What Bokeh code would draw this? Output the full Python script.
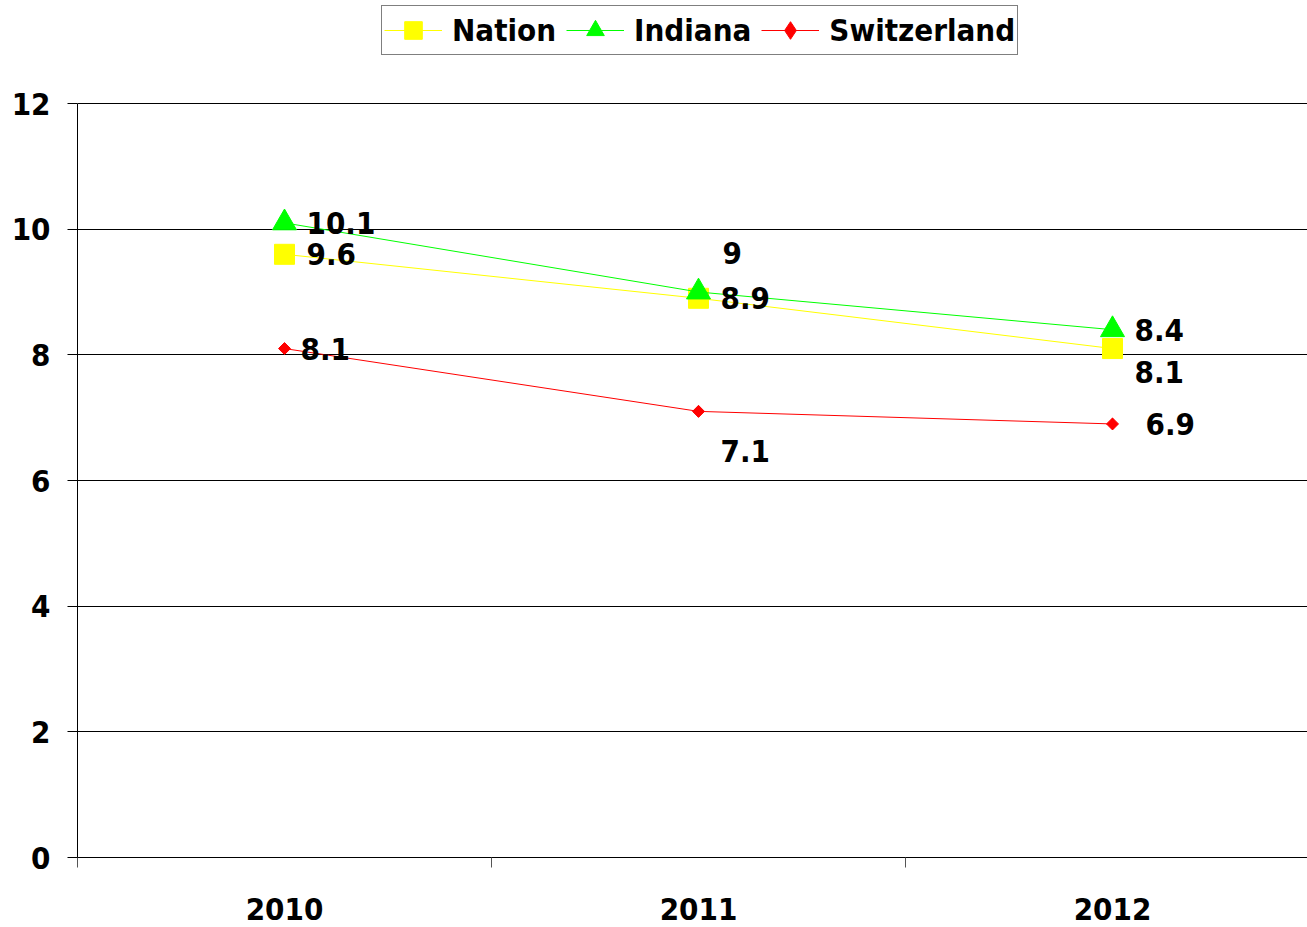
from bokeh.plotting import figure
from bokeh.models import (Range1d, FixedTicker, Legend, LegendItem, ColumnDataSource, LabelSet)
from bokeh.core.properties import value
from bokeh.embed import file_html
from bokeh.resources import INLINE
import math

years = ["2010", "2011", "2012"]
nation = [9.6, 8.9, 8.1]
indiana = [10.1, 9.0, 8.4]
switzerland = [8.1, 7.1, 6.9]
y_ticks = [0, 2, 4, 6, 8, 10, 12]

# label placement in pixels (layout only)
nation_dx = [22, 22, 22]
nation_dy = [0, 0, -23]
indiana_dx = [22, 24, 22]
indiana_dy = [0, 39, 0]
swiss_dx = [16, 22, 33]
swiss_dy = [0, -40, 0]

FONT = "DejaVu Sans Condensed"
xs = [i + 0.5 for i in range(len(years))]

W, H = 1307, 927
LEFT, BOTTOM = 77, 70
frame_h = H - BOTTOM          # frame reaches the top of the canvas (room for the legend)
plot_h = 754                  # height of the 0..12 value area
y_top = y_ticks[-1] * frame_h / plot_h

p = figure(width=W, height=H, x_range=Range1d(0, (W - LEFT) / 414), y_range=Range1d(0, y_top),
           output_backend="svg", toolbar_location=None,
           min_border_left=LEFT, min_border_right=0, min_border_top=0, min_border_bottom=BOTTOM)
p.outline_line_color = None
p.background_fill_color = "white"
p.border_fill_color = "white"
p.xgrid.visible = False
p.ygrid.grid_line_color = "black"
p.ygrid.grid_line_width = 1

p.yaxis.ticker = FixedTicker(ticks=y_ticks, minor_ticks=[])
p.yaxis.bounds = (y_ticks[0], y_ticks[-1])
p.yaxis.axis_line_color = "black"
p.yaxis.major_tick_line_color = "black"
p.yaxis.major_tick_out = 10
p.yaxis.major_tick_in = 0
p.yaxis.major_label_standoff = 17
p.yaxis.major_label_text_font = FONT
p.yaxis.major_label_text_font_size = "31px"
p.yaxis.major_label_text_font_style = "bold"
p.yaxis.major_label_text_color = "black"

p.xaxis.ticker = FixedTicker(ticks=xs, minor_ticks=list(range(len(years) + 1)))
p.xaxis.major_label_overrides = {x: y for x, y in zip(xs, years)}
p.xaxis.axis_line_color = "black"
p.xaxis.major_tick_out = 0
p.xaxis.major_tick_in = 0
p.xaxis.minor_tick_out = 10
p.xaxis.minor_tick_in = 0
p.xaxis.minor_tick_line_color = "#555555"
p.xaxis.major_label_standoff = 30
p.xaxis.major_label_text_font = FONT
p.xaxis.major_label_text_font_size = "31px"
p.xaxis.major_label_text_font_style = "bold"
p.xaxis.major_label_text_color = "black"

series = [
    ("Nation", nation, "#FFFF00", "square", 20, 0.0, "square", nation_dx, nation_dy),
    ("Indiana", indiana, "#00FF00", "triangle", 24, 0.0, "triangle", indiana_dx, indiana_dy),
    ("Switzerland", switzerland, "#FF0000", "square", 8.5, math.pi / 4, "diamond", swiss_dx, swiss_dy),
]

items = []
sources = []
for name, vals, color, marker, size, ang, leg_marker, dx, dy in series:
    src = ColumnDataSource(dict(x=xs, y=vals, label=[f"{v:g}" for v in vals], dx=dx, dy=dy))
    sources.append(src)
    lr = p.line("x", "y", source=src, line_color=color, line_width=1)
    if leg_marker == marker and ang == 0.0:
        sr = p.scatter("x", "y", source=src, marker=marker, size=size,
                       fill_color=color, line_color=color)
        items.append(LegendItem(label=name, renderers=[lr, sr]))
    else:
        # legend marker (the legend draws markers unrotated); hidden beneath the rotated square
        proxy = p.scatter("x", "y", source=src, marker=leg_marker, size=size * 1.3,
                          fill_color=color, line_color=color)
        p.scatter("x", "y", source=src, marker=marker, size=size, angle=ang,
                  fill_color=color, line_color=color)
        items.append(LegendItem(label=name, renderers=[lr, proxy]))

for src in sources:
    labels = LabelSet(x="x", y="y", text="label", source=src, x_offset="dx", y_offset="dy",
                      text_font=value(FONT), text_font_size="31px", text_font_style="bold",
                      text_color="black", text_align="left", text_baseline="middle")
    p.add_layout(labels)

legend = Legend(items=items, orientation="horizontal", location=(381 - LEFT, frame_h - 55),
                border_line_color="black", border_line_width=1,
                label_text_font=FONT, label_text_font_size="31px", label_text_font_style="bold",
                label_text_color="black",
                glyph_width=58, glyph_height=44, label_standoff=10, spacing=10,
                padding=2, margin=0, background_fill_color="white", background_fill_alpha=1)
p.add_layout(legend, "center")

open("out.html", "w").write(file_html(p, INLINE))
